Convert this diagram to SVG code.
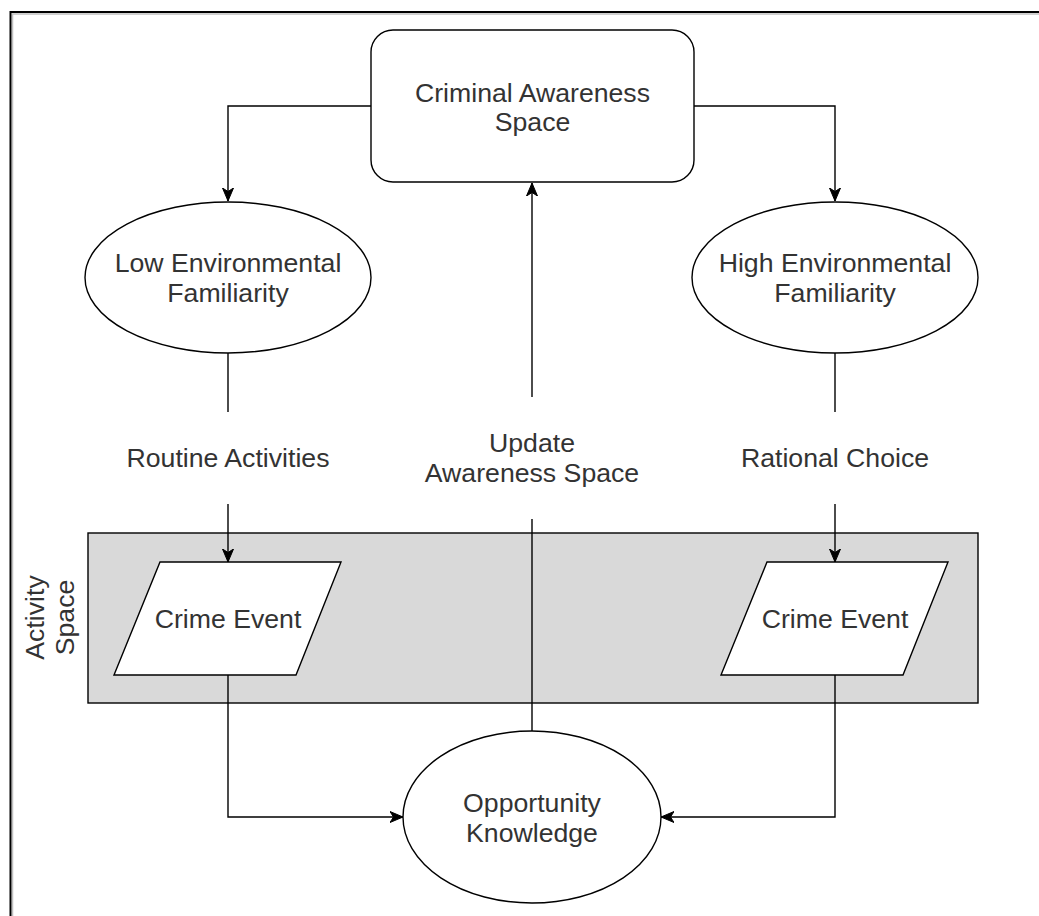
<svg xmlns="http://www.w3.org/2000/svg" width="1039" height="916" viewBox="0 0 1039 916">
<style>
.shape{fill:#fff;stroke:#000;stroke-width:1.4}
.lane{fill:#d9d9d9;stroke:#000;stroke-width:1.4}
.edge{fill:none;stroke:#000;stroke-width:1.4}
.lbl{font-family:"Liberation Sans",Arial,sans-serif;font-size:26.67px;fill:#333;text-anchor:middle}
</style>
<defs>
<marker id="arr" markerUnits="userSpaceOnUse" markerWidth="14" markerHeight="12" viewBox="0 0 14 12" refX="13" refY="6" orient="auto">
<path d="M0,0.5 L13,6 L0,11.5 L3.5,6 Z" fill="#000" stroke="#000" stroke-width="1"/>
</marker>
</defs>
<rect width="1039" height="916" fill="#fff"/>
<g id="frame">
<path d="M12.5,916 V14 H1039" fill="none" stroke="#c0c0c0" stroke-width="1.5"/>
<path d="M10.5,916 V12 H1039" fill="none" stroke="#000" stroke-width="2"/>
</g>
<g id="activity-space">
<rect class="lane" x="88" y="533" width="890" height="170"/>
<text class="lbl" transform="translate(50,617.5) rotate(-90)"><tspan x="0" y="-6">Activity</tspan><tspan x="0" y="23.5">Space</tspan></text>
</g>
<g id="edges">
<path class="edge" d="M371,106 H228 V201" marker-end="url(#arr)"/>
<path class="edge" d="M694,106 H835 V201" marker-end="url(#arr)"/>
<path class="edge" d="M228,353 V412"/>
<path class="edge" d="M228,504 V562" marker-end="url(#arr)"/>
<path class="edge" d="M835,353 V412"/>
<path class="edge" d="M835,504 V562" marker-end="url(#arr)"/>
<path class="edge" d="M532,731 V519"/>
<path class="edge" d="M532,397 V183" marker-end="url(#arr)"/>
<path class="edge" d="M228,675 V817 H403" marker-end="url(#arr)"/>
<path class="edge" d="M835,675 V817 H661" marker-end="url(#arr)"/>
</g>
<g id="criminal-awareness-space">
<rect class="shape" x="371" y="30" width="323" height="152" rx="22" ry="22"/>
<text class="lbl"><tspan x="532.5" y="102">Criminal Awareness</tspan><tspan x="532.5" y="131">Space</tspan></text>
</g>
<g id="low-familiarity">
<ellipse class="shape" cx="228" cy="277.5" rx="143" ry="75.5"/>
<text class="lbl"><tspan x="228" y="272">Low Environmental</tspan><tspan x="228" y="302">Familiarity</tspan></text>
</g>
<g id="high-familiarity">
<ellipse class="shape" cx="835" cy="277.5" rx="143" ry="75.5"/>
<text class="lbl"><tspan x="835" y="272">High Environmental</tspan><tspan x="835" y="302">Familiarity</tspan></text>
</g>
<g id="routine-activities">
<text class="lbl" x="228" y="467">Routine Activities</text>
</g>
<g id="rational-choice">
<text class="lbl" x="835" y="467">Rational Choice</text>
</g>
<g id="update-awareness-space">
<text class="lbl"><tspan x="532" y="452">Update</tspan><tspan x="532" y="482">Awareness Space</tspan></text>
</g>
<g id="crime-event-left">
<path class="shape" d="M160,562 H341 L296,675 H114 Z"/>
<text class="lbl" x="228" y="628">Crime Event</text>
</g>
<g id="crime-event-right">
<path class="shape" d="M767,562 H948 L903,675 H721 Z"/>
<text class="lbl" x="835" y="628">Crime Event</text>
</g>
<g id="opportunity-knowledge">
<ellipse class="shape" cx="532" cy="817" rx="129" ry="86"/>
<text class="lbl"><tspan x="532" y="812">Opportunity</tspan><tspan x="532" y="842">Knowledge</tspan></text>
</g>
</svg>
